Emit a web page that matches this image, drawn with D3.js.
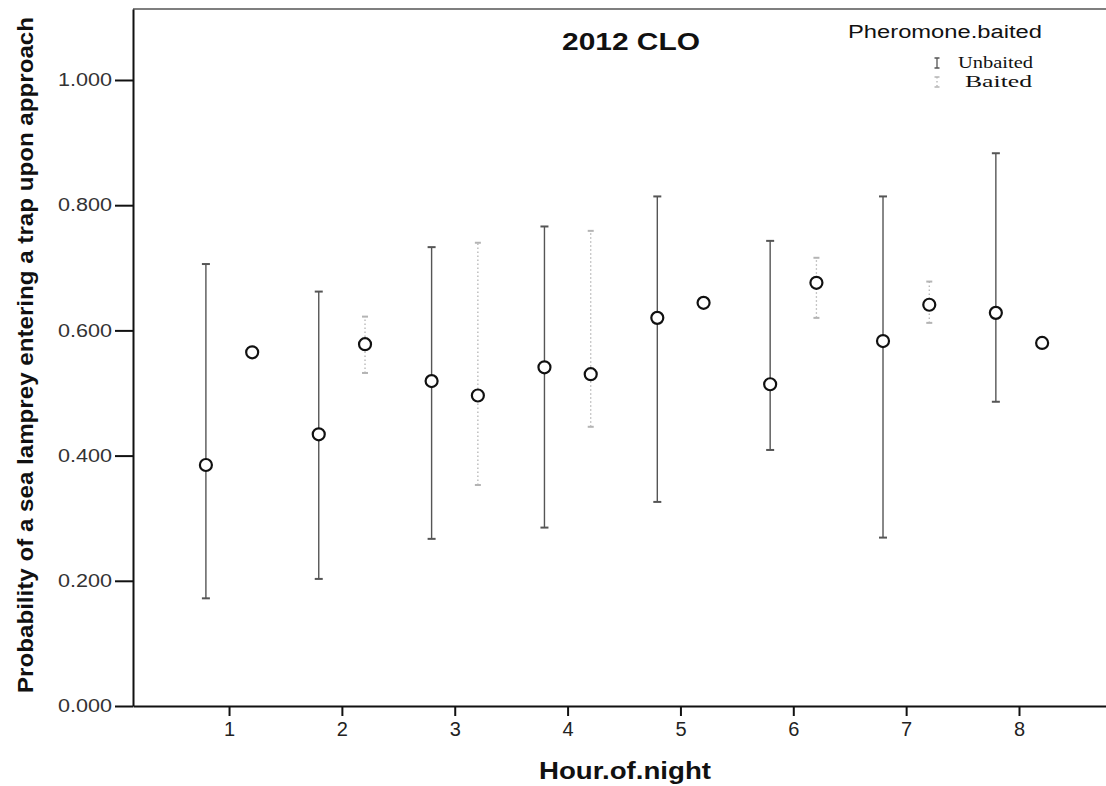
<!DOCTYPE html>
<html>
<head>
<meta charset="utf-8">
<script src="https://cdn.jsdelivr.net/npm/d3@7/dist/d3.min.js"></script>
<style>
  html, body { margin: 0; padding: 0; background: #ffffff; }
  svg { display: block; }
</style>
</head>
<body>
<svg id="chart" width="1106" height="786"></svg>
<script>
// Hour of night (x categories)
const hours = [1, 2, 3, 4, 5, 6, 7, 8];

// Unbaited traps: mean probability and confidence limits
const unbaitedMean  = [0.385, 0.434, 0.519, 0.541, 0.620, 0.514, 0.583, 0.628];
const unbaitedLower = [0.172, 0.203, 0.267, 0.285, 0.326, 0.409, 0.269, 0.486];
const unbaitedUpper = [0.706, 0.662, 0.733, 0.766, 0.814, 0.743, 0.814, 0.883];

// Baited traps: mean probability and confidence limits
const baitedMean  = [0.565, 0.578, 0.496, 0.530, 0.644, 0.676, 0.641, 0.580];
const baitedLower = [0.565, 0.532, 0.353, 0.446, 0.644, 0.620, 0.612, 0.580];
const baitedUpper = [0.565, 0.622, 0.740, 0.759, 0.644, 0.716, 0.678, 0.580];

const yTicks = [0, 0.2, 0.4, 0.6, 0.8, 1.0];
const groups = ["Unbaited", "Baited"];

const W = 1106, H = 786;
const margin = { top: 9, right: 0, bottom: 80, left: 133 };

const svg = d3.select("#chart");

const x = d3.scaleLinear().domain([0.149, 8.771]).range([margin.left, W - margin.right]);
const y = d3.scaleLinear().domain([0, 1.1134]).range([H - margin.bottom, margin.top]);

const sans = "'Liberation Sans', Arial, sans-serif";
const serif = "'Liberation Serif', 'Times New Roman', serif";

// Top frame line
svg.append("line")
  .attr("x1", x.range()[0]).attr("x2", x.range()[1])
  .attr("y1", y.range()[1]).attr("y2", y.range()[1])
  .attr("stroke", "#555").attr("stroke-width", 1.5);

// Y axis
const yAxis = svg.append("g")
  .attr("transform", `translate(${margin.left},0)`)
  .call(d3.axisLeft(y).tickValues(yTicks).tickFormat(d3.format(".3f"))
    .tickSize(18).tickPadding(3).tickSizeOuter(0));
yAxis.select(".domain").attr("stroke", "#111").attr("stroke-width", 2);
yAxis.selectAll(".tick line").attr("stroke", "#111").attr("stroke-width", 2);
yAxis.selectAll(".tick text")
  .attr("font-family", sans).attr("font-size", 18).attr("fill", "#333")
  .attr("textLength", 54).attr("lengthAdjust", "spacingAndGlyphs");

// X axis
const xAxis = svg.append("g")
  .attr("transform", `translate(0,${H - margin.bottom})`)
  .call(d3.axisBottom(x).tickValues(hours).tickFormat(d3.format("d"))
    .tickSize(10).tickPadding(6).tickSizeOuter(0));
xAxis.select(".domain").attr("stroke", "#111").attr("stroke-width", 2);
xAxis.selectAll(".tick line").attr("stroke", "#111").attr("stroke-width", 2);
xAxis.selectAll(".tick text")
  .attr("font-family", sans).attr("font-size", 20).attr("fill", "#222");

// Error bars and means for each group
const offsets = { Unbaited: -0.205, Baited: 0.205 };
const styles = {
  Unbaited: { stroke: "#555", width: 1.4, dash: null, cap: 8 },
  Baited:   { stroke: "#b4b4b4", width: 1.3, dash: "1.5,2.5", cap: 6 }
};
const series = {
  Unbaited: hours.map((h, i) => ({ h, m: unbaitedMean[i], lo: unbaitedLower[i], hi: unbaitedUpper[i] })),
  Baited:   hours.map((h, i) => ({ h, m: baitedMean[i],   lo: baitedLower[i],   hi: baitedUpper[i] }))
};

groups.forEach(gname => {
  const st = styles[gname];
  const g = svg.append("g").attr("class", "bars-" + gname);
  const rows = series[gname].filter(d => d.hi > d.lo);
  const item = g.selectAll("g").data(rows).join("g");
  const cx = d => x(d.h + offsets[gname]);
  item.append("line")
    .attr("x1", cx).attr("x2", cx)
    .attr("y1", d => y(d.lo)).attr("y2", d => y(d.hi))
    .attr("stroke", st.stroke).attr("stroke-width", st.width)
    .attr("stroke-dasharray", st.dash);
  ["lo", "hi"].forEach(k => {
    item.append("line")
      .attr("x1", d => cx(d) - st.cap / 2).attr("x2", d => cx(d) + st.cap / 2)
      .attr("y1", d => y(d[k])).attr("y2", d => y(d[k]))
      .attr("stroke", st.stroke).attr("stroke-width", 2);
  });
});

groups.forEach(gname => {
  svg.append("g").selectAll("circle")
    .data(series[gname]).join("circle")
    .attr("cx", d => x(d.h + offsets[gname]))
    .attr("cy", d => y(d.m))
    .attr("r", 6)
    .attr("fill", "#fff")
    .attr("stroke", "#111")
    .attr("stroke-width", 2.2);
});

// Title
svg.append("text")
  .attr("x", 631).attr("y", 50).attr("text-anchor", "middle")
  .attr("font-family", sans).attr("font-weight", "bold").attr("font-size", 23)
  .attr("fill", "#111")
  .attr("textLength", 138).attr("lengthAdjust", "spacingAndGlyphs")
  .text("2012 CLO");

// Axis titles
svg.append("text")
  .attr("x", 625).attr("y", 779).attr("text-anchor", "middle")
  .attr("font-family", sans).attr("font-weight", "bold").attr("font-size", 23)
  .attr("fill", "#111")
  .attr("textLength", 172).attr("lengthAdjust", "spacingAndGlyphs")
  .text("Hour.of.night");

svg.append("text")
  .attr("transform", "translate(33,355) rotate(-90)")
  .attr("text-anchor", "middle")
  .attr("font-family", sans).attr("font-weight", "bold").attr("font-size", 22)
  .attr("fill", "#111")
  .attr("textLength", 676).attr("lengthAdjust", "spacingAndGlyphs")
  .text("Probability of a sea lamprey entering a trap upon approach");

// Legend
const legend = svg.append("g");
legend.append("text")
  .attr("x", 848).attr("y", 38)
  .attr("font-family", sans).attr("font-size", 18).attr("fill", "#111")
  .attr("textLength", 194).attr("lengthAdjust", "spacingAndGlyphs")
  .text("Pheromone.baited");

const legendRows = [
  { name: "Unbaited", y: 63, tx: 958, tl: 75 },
  { name: "Baited", y: 82, tx: 965, tl: 67 }
];
legendRows.forEach(r => {
  const st = styles[r.name];
  const sx = 937;
  legend.append("line")
    .attr("x1", sx).attr("x2", sx).attr("y1", r.y - 5).attr("y2", r.y + 5)
    .attr("stroke", st.stroke).attr("stroke-width", 1.3)
    .attr("stroke-dasharray", st.dash);
  [r.y - 5, r.y + 5].forEach(yy => {
    legend.append("line")
      .attr("x1", sx - 2.5).attr("x2", sx + 2.5).attr("y1", yy).attr("y2", yy)
      .attr("stroke", st.stroke).attr("stroke-width", 1.5);
  });
  legend.append("text")
    .attr("x", r.tx).attr("y", r.y + 5)
    .attr("font-family", serif).attr("font-size", 16).attr("fill", "#111")
    .attr("textLength", r.tl).attr("lengthAdjust", "spacingAndGlyphs")
    .text(r.name);
});
</script>
</body>
</html>
